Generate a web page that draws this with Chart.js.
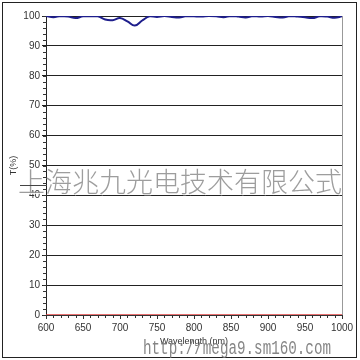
<!DOCTYPE html>
<html>
<head>
<meta charset="utf-8">
<script src="https://cdn.jsdelivr.net/npm/chart.js@4/dist/chart.umd.min.js"></script>
<style>
  html, body { margin: 0; padding: 0; background: #fff; }
  #wrap { width: 360px; height: 360px; }
</style>
</head>
<body>
<div id="wrap"><canvas id="chart" width="360" height="360"></canvas></div>
<script>
// wavelength (nm) and transmittance T(%)
const wavelengths = [600,610,620,630,640,650,660,670,680,690,700,710,720,730,740,750,760,770,780,790,800,
                     810,820,830,840,850,860,870,880,890,900,910,920,930,940,950,960,970,980,990,1000];
const transmission = [100,99.6,100,99.8,99.3,99.9,99.9,99.9,98.8,98.6,99.3,98.2,96.8,98.5,99.9,99.7,100,99.7,99.5,100,99.9,
                      99.8,100,99.9,99.6,100,99.8,99.5,100,99.8,100,99.7,99.5,100,99.8,99.6,99.3,99.9,99.8,99.4,99.9];
const baseline = wavelengths.map(() => 0);
const xTicks = [600,650,700,750,800,850,900,950,1000];
const yTicks = [0,10,20,30,40,50,60,70,80,90,100];

const watermark = "上海兆九光电技术有限公式";
const siteUrl = "http://mega9.sm160.com";

const tickFont = { family: "Liberation Sans", size: 10 };

// minor ticks, plot frame, outer frame, watermark
const extras = {
  id: "extras",
  beforeDatasetsDraw(c){
    const ctx = c.ctx, a = c.chartArea;
    const x = c.scales.x, y = c.scales.y;
    ctx.save();
    ctx.strokeStyle = "#333";
    ctx.lineWidth = 1;
    ctx.beginPath();
    for (let v = 0; v <= 100; v += 2) {
      const py = Math.round(y.getPixelForValue(v)) + 0.5;
      ctx.moveTo(a.left - 3, py); ctx.lineTo(a.left + 1, py);
    }
    for (let v = 600; v <= 1000; v += 10) {
      const px = Math.round(x.getPixelForValue(v)) + 0.5;
      ctx.moveTo(px, a.bottom); ctx.lineTo(px, a.bottom + 3);
    }
    ctx.stroke();
    ctx.strokeStyle = "#999";
    ctx.beginPath();
    ctx.moveTo(Math.round(a.right) + 0.5, a.top);
    ctx.lineTo(Math.round(a.right) + 0.5, a.bottom);
    ctx.stroke();
    ctx.restore();
  },
  afterDraw(c){
    const ctx = c.ctx;
    ctx.save();
    ctx.strokeStyle = "#222";
    ctx.lineWidth = 1;
    ctx.strokeRect(2.5, 2.5, 354, 355);
    // watermark
    ctx.font = "300 27px 'Noto Sans CJK SC'";
    ctx.textBaseline = "alphabetic";
    ctx.fillStyle = "rgba(255,255,255,0.8)";
    ctx.fillText(watermark, 19, 193, 324);
    ctx.fillStyle = "rgba(140,140,140,0.85)";
    ctx.fillText(watermark, 18, 192, 324);
    ctx.strokeStyle = "#444";
    ctx.beginPath();
    ctx.moveTo(20, 185.5); ctx.lineTo(47, 185.5);
    ctx.stroke();
    ctx.font = "20px 'Liberation Mono'";
    ctx.fillStyle = "rgba(120,120,120,0.9)";
    ctx.fillText(siteUrl, 143, 354, 188);
    ctx.restore();
  }
};

new Chart(document.getElementById("chart"), {
  type: "line",
  data: {
    datasets: [
      {
        data: wavelengths.map((w, i) => ({ x: w, y: transmission[i] })),
        borderColor: "#1e1e8c",
        borderWidth: 2,
        tension: 0.4,
        pointRadius: 0,
        fill: false
      },
      {
        data: wavelengths.map((w, i) => ({ x: w, y: baseline[i] })),
        borderColor: "#e04040",
        borderWidth: 1.5,
        pointRadius: 0,
        fill: false
      }
    ]
  },
  options: {
    responsive: false,
    animation: false,
    layout: { padding: { left: 0, top: 16, right: 18, bottom: 0 } },
    plugins: { legend: { display: false }, tooltip: { enabled: false } },
    scales: {
      x: {
        type: "linear",
        min: 600, max: 1000,
        afterBuildTicks: s => { s.ticks = xTicks.map(v => ({ value: v })); },
        afterFit: s => { s.height = 45; },
        ticks: { font: tickFont, color: "#333", padding: 3, maxRotation: 0, callback: v => String(v) },
        grid: { drawOnChartArea: false, drawTicks: true, tickLength: 4, color: "#333" },
        border: { color: "#333" },
        title: { display: true, text: "Wavelength (nm)", font: { family: "Liberation Sans", size: 9 }, color: "#333", padding: { top: 0, bottom: 13 } }
      },
      y: {
        min: 0, max: 100,
        afterBuildTicks: s => { s.ticks = yTicks.map(v => ({ value: v })); },
        afterFit: s => { s.width = 46; },
        ticks: { font: tickFont, color: "#333", padding: 2, callback: v => String(v) },
        grid: { color: "#222", lineWidth: 1, tickLength: 4 },
        border: { color: "#222" },
        title: { display: true, text: "T(%)", font: { family: "Liberation Sans", size: 9 }, color: "#333", padding: { top: 8, bottom: 0 } }
      }
    }
  },
  plugins: [extras]
});
</script>
</body>
</html>
